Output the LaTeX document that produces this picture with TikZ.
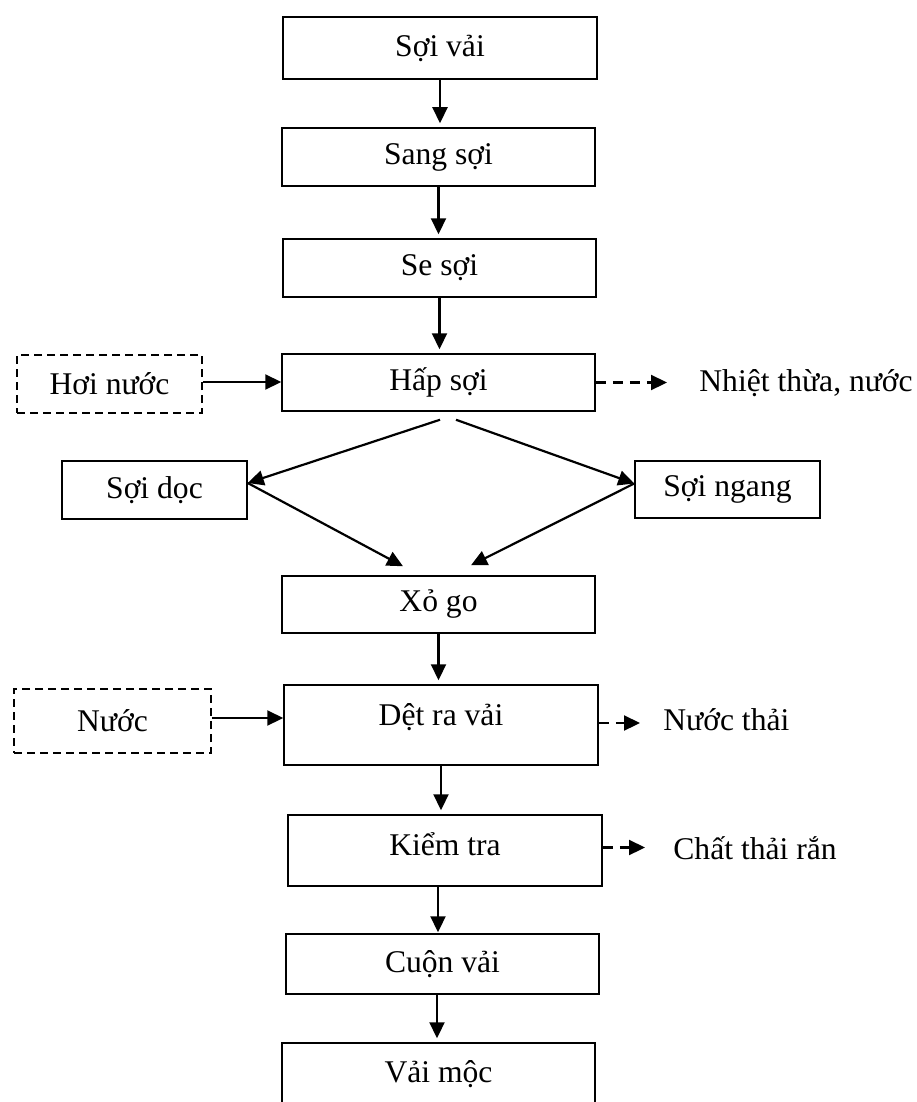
\documentclass[tikz,border=0pt]{standalone}
\usepackage{fontspec}
\setmainfont{Liberation Serif}
\usetikzlibrary{arrows.meta}

\begin{document}
\begin{tikzpicture}[x=0.5pt,y=-0.5pt,
  font=\fontsize{15.8pt}{19pt}\selectfont,
  box/.style={draw, line width=0.75pt, inner sep=0pt, align=center},
  inbox/.style={box, dash pattern=on 4pt off 2.5pt},
  flow/.style={line width=1.1pt, -{Triangle[length=8pt,width=7.5pt]}},
  loss/.style={flow, dash pattern=on 5pt off 3.5pt},
  side/.style={inner sep=0pt, anchor=west}]

\useasboundingbox (0,0) rectangle (916,1102);
\clip (0,0) rectangle (916,1102);

% main process chain
\node[box, minimum width=157pt, minimum height=31pt] (soivai) at (440,48) {Sợi vải};
\node[box, minimum width=156.5pt, minimum height=29pt] (sang) at (438.5,157) {Sang sợi};
\node[box, minimum width=156.5pt, minimum height=29pt] (se) at (439.5,268) {Se sợi};
\node[box, minimum width=156.5pt, minimum height=28.5pt] (hap) at (438.5,382.5) {Hấp sợi};
\node[box, minimum width=92.5pt, minimum height=29pt] (doc) at (154.5,490) {Sợi dọc};
\node[box, minimum width=92.5pt, minimum height=28.5pt] (ngang) at (727.5,489.5) {Sợi ngang};
\node[box, minimum width=156.5pt, minimum height=28.5pt] (xo) at (438.5,604.5) {Xỏ go};
\node[box, minimum width=157pt, minimum height=40pt, text height=11pt, text depth=11pt] (det) at (441,725) {Dệt ra vải};
\node[box, minimum width=157pt, minimum height=35.5pt, text height=12.5pt, text depth=8pt] (kiem) at (445,850.5) {Kiểm tra};
\node[box, minimum width=156.5pt, minimum height=30pt] (cuon) at (442.5,964) {Cuộn vải};
\node[box, minimum width=156.5pt, minimum height=31pt] (moc) at (438.5,1074) {Vải mộc};

% inputs
\node[inbox, minimum width=92.5pt, minimum height=29pt] (hoi) at (109.5,384) {Hơi nước};
\node[inbox, minimum width=98.5pt, minimum height=32pt] (nuoc) at (112.5,721) {Nước};

% outputs
\node[side] (nhiet) at (699,383) {Nhiệt thừa, nước};
\node[side] (nthai) at (663,720) {Nước thải};
\node[side] (ctr) at (673,848) {Chất thải rắn};

% vertical flow
\draw[flow, shorten >=2pt] (soivai.south) -- (soivai.south |- sang.north);
\draw[flow, shorten >=2pt] (sang.south) -- (sang.south |- se.north);
\draw[flow, shorten >=2pt] (se.south) -- (se.south |- hap.north);
\draw[flow, shorten >=2pt] (xo.south) -- (xo.south |- det.north);
\draw[flow, shorten >=2pt] (det.south) -- (det.south |- kiem.north);
\draw[flow, shorten >=0.5pt] ([xshift=-3.5pt]kiem.south) -- ([xshift=-3.5pt]kiem.south |- cuon.north);
\draw[flow, shorten >=2pt] ([xshift=-2.75pt]cuon.south) -- ([xshift=-2.75pt]cuon.south |- moc.north);

% split into warp and weft, then joined again
\draw[flow] ([xshift=0.75pt,yshift=-4pt]hap.south) -- ([yshift=3.5pt]doc.east);
\draw[flow] ([xshift=8.75pt,yshift=-4pt]hap.south) -- ([yshift=3pt]ngang.west);
\draw[flow] ([yshift=3.5pt]doc.east) -- ([xshift=-17.75pt,yshift=4.5pt]xo.north);
\draw[flow] ([yshift=3pt]ngang.west) -- ([xshift=16.25pt,yshift=5pt]xo.north);

% inputs
\draw[flow] ([yshift=1pt]hoi.east) -- ([yshift=1pt]hoi.east -| hap.west);
\draw[flow] ([yshift=1.5pt]nuoc.east) -- ([yshift=1.5pt]nuoc.east -| det.west);

% waste streams
\draw[loss, shorten >=16pt] (hap.east) -- (hap.east -| nhiet.west);
\draw[loss, shorten >=11.5pt] ([yshift=1pt]det.east) -- ([yshift=1pt]det.east -| nthai.west);
\draw[loss, shorten >=14pt] ([yshift=1.5pt]kiem.east) -- ([yshift=1.5pt]kiem.east -| ctr.west);
\end{tikzpicture}
\end{document}
